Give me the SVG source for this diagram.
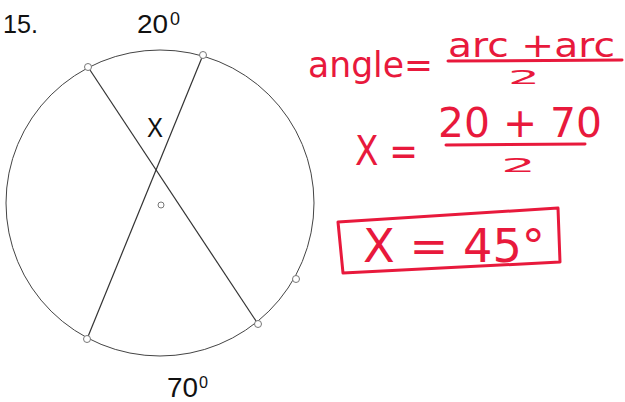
<svg xmlns="http://www.w3.org/2000/svg" width="625" height="402" viewBox="0 0 625 402">
<style>
.blk{font-family:"Liberation Sans","Open Sans",sans-serif;fill:#111}
.red{font-family:"DejaVu Sans","Liberation Sans",sans-serif;fill:#e8193c}
.rl{stroke:#e8193c;stroke-width:3;fill:none;stroke-linecap:round;stroke-linejoin:round}
.pt{fill:#fff;stroke:#777;stroke-width:1}
</style>
<rect width="625" height="402" fill="#fff"/>
<g id="circle">
<ellipse cx="160" cy="203" rx="154" ry="153" fill="none" stroke="#444" stroke-width="1"/>
</g>
<g id="connectors" stroke="#333" stroke-width="1.2">
<line x1="88" y1="67" x2="258" y2="324"/>
<line x1="203" y1="55" x2="87" y2="339"/>
</g>
<g id="points">
<circle class="pt" cx="88" cy="67" r="3.5"/>
<circle class="pt" cx="203" cy="55" r="3.5"/>
<circle class="pt" cx="296" cy="279" r="3.5"/>
<circle class="pt" cx="258" cy="324" r="3.5"/>
<circle class="pt" cx="87" cy="339" r="3.5"/>
<circle class="pt" cx="161" cy="205" r="3"/>
</g>
<g id="labels">
<text class="blk" x="3" y="33" font-size="26" textLength="35" lengthAdjust="spacingAndGlyphs">15.</text>
<text class="blk" x="137" y="33" font-size="26" textLength="31" lengthAdjust="spacingAndGlyphs">20</text>
<text class="blk" x="170" y="25" font-size="18" textLength="10" lengthAdjust="spacingAndGlyphs">0</text>
<text class="blk" x="147" y="137" font-size="27" textLength="16" lengthAdjust="spacingAndGlyphs">X</text>
<text class="blk" x="167" y="397" font-size="28" textLength="31" lengthAdjust="spacingAndGlyphs">70</text>
<text class="blk" x="199" y="388" font-size="16" textLength="9" lengthAdjust="spacingAndGlyphs">0</text>
</g>
<g id="work">
<text class="red" x="308" y="77" font-size="36" textLength="125" lengthAdjust="spacingAndGlyphs">angle=</text>
<text class="red" x="448" y="57" font-size="34" textLength="167" lengthAdjust="spacingAndGlyphs">arc +arc</text>
<line class="rl" x1="448" y1="61" x2="622" y2="60"/>
<text class="red" x="508" y="84" font-size="20" textLength="32" lengthAdjust="spacingAndGlyphs">2</text>
<text class="red" x="355" y="165" font-size="40" textLength="63" lengthAdjust="spacingAndGlyphs">X =</text>
<text class="red" x="438" y="137" font-size="40" textLength="164" lengthAdjust="spacingAndGlyphs">20 + 70</text>
<line class="rl" x1="446" y1="145" x2="585" y2="144"/>
<text class="red" x="501" y="172" font-size="20" textLength="35" lengthAdjust="spacingAndGlyphs">2</text>
<polygon class="rl" points="338,222 558,208 560,262 343,273"/>
<text class="red" x="363" y="262" font-size="46" textLength="182" lengthAdjust="spacingAndGlyphs">X = 45°</text>
</g>
</svg>
